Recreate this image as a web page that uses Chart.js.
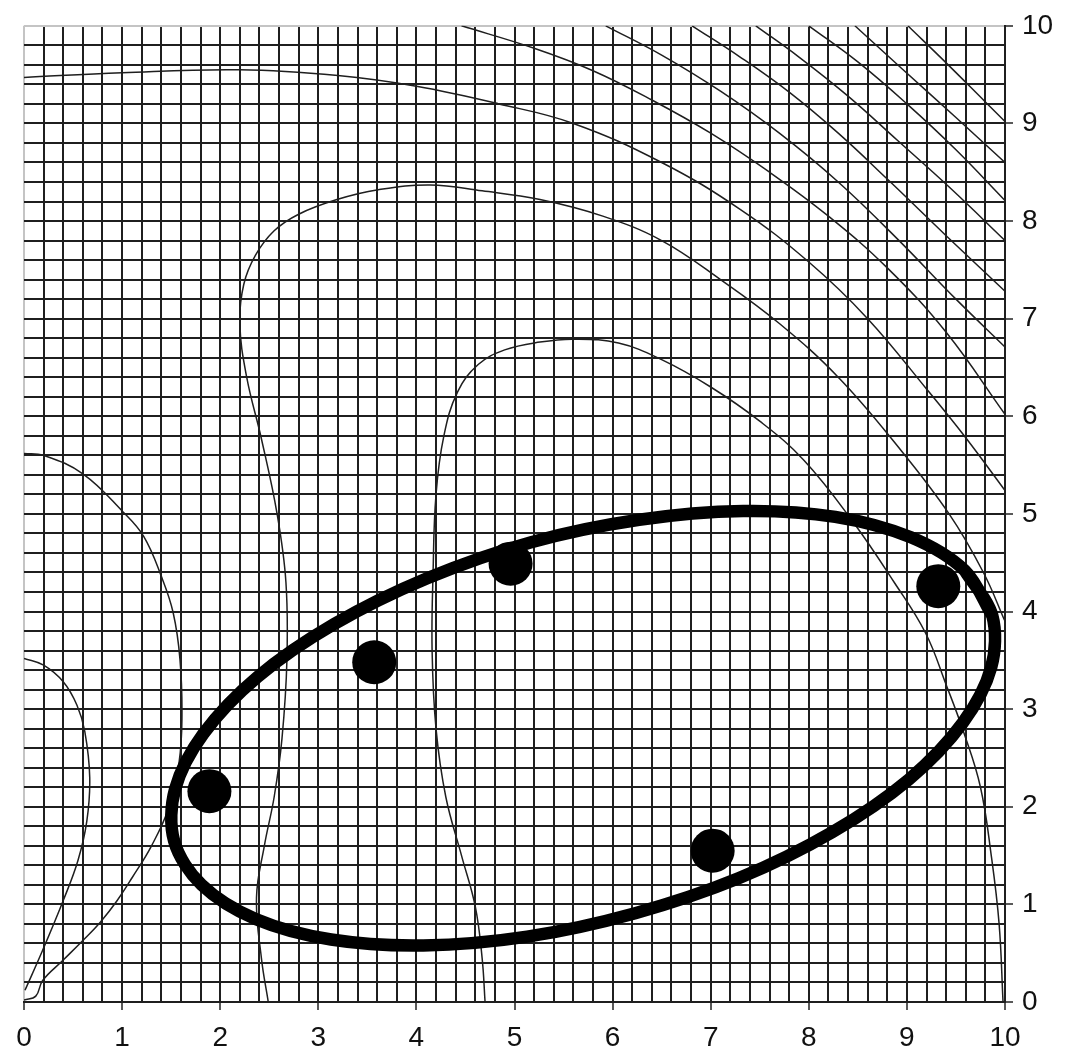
<!DOCTYPE html>
<html>
<head>
<meta charset="utf-8">
<script src="https://cdn.jsdelivr.net/npm/chart.js@4.4.1/dist/chart.umd.min.js"></script>
<style>
  html, body { margin: 0; padding: 0; background: #ffffff; }
  #wrap { width: 1074px; height: 1048px; }
</style>
</head>
<body>
<div id="wrap"><canvas id="plot" width="1074" height="1048"></canvas></div>
<script>
// Axis labels (integer positions only; the fine grid runs every 0.2)
const xTickLabels = ['0', '1', '2', '3', '4', '5', '6', '7', '8', '9', '10'];
const yTickLabels = ['0', '1', '2', '3', '4', '5', '6', '7', '8', '9', '10'];

// Contour lines, [x, y] pairs, upper-right corner outward
const contour1 = [[9.01, 10], [9.4, 9.62], [9.8, 9.22], [10, 9.02]];
const contour2 = [[8.47, 10], [8.95, 9.56], [9.5, 9.06], [10, 8.6]];
const contour3 = [[8.0, 10], [8.5, 9.63], [9.0, 9.2], [9.5, 8.73], [10, 8.21]];
const contour4 = [[7.46, 10], [7.9, 9.68], [8.4, 9.28], [8.9, 8.83], [9.45, 8.33], [10, 7.8]];
const contour5 = [[6.81, 10], [7.3, 9.68], [7.8, 9.32], [8.3, 8.9], [8.8, 8.43], [9.4, 7.85], [10, 7.28]];
const contour6 = [[5.93, 10], [6.5, 9.7], [7.1, 9.33], [7.7, 8.9], [8.3, 8.4], [8.9, 7.82], [9.5, 7.2], [10, 6.71]];
const contour7 = [[4.46, 10], [5.2, 9.77], [5.8, 9.54], [6.4, 9.24], [7.0, 8.9], [7.6, 8.5], [8.2, 8.05],
                  [8.8, 7.52], [9.4, 6.86], [10, 6.02]];
const contour8 = [[0, 9.47], [1.0, 9.52], [2.2, 9.55], [3.2, 9.49], [4.0, 9.38], [4.84, 9.2], [5.6, 9.0],
                  [6.5, 8.6], [7.3, 8.12], [8.0, 7.58], [8.6, 7.0], [9.2, 6.28], [9.6, 5.78], [10, 5.24]];
const contour9 = [[2.49, 0], [2.42, 0.45], [2.37, 1.07], [2.45, 1.6], [2.55, 2.1], [2.63, 2.7], [2.68, 3.5],
                  [2.67, 4.3], [2.58, 5.0], [2.42, 5.77], [2.27, 6.4], [2.2, 6.95], [2.24, 7.35], [2.36, 7.65],
                  [2.55, 7.9], [2.8, 8.07], [3.19, 8.22], [3.61, 8.32], [4.14, 8.37], [4.67, 8.31], [5.26, 8.22],
                  [5.9, 8.05], [6.5, 7.8], [7.1, 7.4], [7.7, 6.95], [8.3, 6.4], [8.9, 5.7], [9.43, 5.0],
                  [9.78, 4.4], [10, 3.9]];
const contour10 = [[4.7, 0], [4.67, 0.45], [4.6, 0.98], [4.46, 1.5], [4.3, 2.1], [4.2, 2.8], [4.16, 3.6],
                   [4.17, 4.4], [4.2, 5.2], [4.28, 5.8], [4.42, 6.25], [4.63, 6.53], [4.9, 6.68], [5.26, 6.76],
                   [5.6, 6.79], [6.06, 6.75], [6.5, 6.58], [7.0, 6.3], [7.5, 5.95], [7.95, 5.55], [8.45, 4.92],
                   [8.87, 4.3], [9.19, 3.78], [9.4, 3.25], [9.58, 2.76], [9.75, 2.2], [9.86, 1.5], [9.94, 0.8],
                   [9.98, 0]];
const contour11 = [[0, 5.62], [0.2, 5.6], [0.6, 5.41], [1.01, 5.02], [1.22, 4.77], [1.4, 4.36], [1.52, 3.99],
                   [1.59, 3.51], [1.61, 2.9], [1.58, 2.45], [1.48, 2.0], [1.3, 1.6], [1.1, 1.27], [0.95, 1.04],
                   [0.78, 0.82], [0.6, 0.63], [0.4, 0.43], [0.19, 0.22], [0.12, 0.06], [0, 0.02]];
const contour12 = [[0, 3.52], [0.2, 3.45], [0.4, 3.28], [0.54, 3.04], [0.62, 2.77], [0.67, 2.3], [0.64, 1.85],
                   [0.55, 1.45], [0.4, 1.04], [0.19, 0.53], [0.01, 0.12]];

// Outline drawn around the sample points
const ringPoints = [[9.87, 3.96], [9.59, 4.42], [9.04, 4.76], [8.27, 4.97], [7.33, 5.03], [6.27, 4.94],
                    [5.17, 4.71], [4.11, 4.34], [3.16, 3.87], [2.38, 3.33], [1.83, 2.75], [1.54, 2.18],
                    [1.53, 1.65], [1.81, 1.20], [2.36, 0.85], [3.13, 0.64], [4.07, 0.58], [5.13, 0.67],
                    [6.23, 0.91], [7.29, 1.27], [8.24, 1.74], [9.02, 2.28], [9.57, 2.86], [9.86, 3.43]];

// Sample points
const samplePoints = [[1.89, 2.16], [3.57, 3.48], [4.96, 4.49], [7.02, 1.55], [9.32, 4.26]];

const toXY = arr => arr.map(([x, y]) => ({ x, y }));
const isWhole = v => Math.abs(v - Math.round(v)) < 1e-6;

const contourSets = [contour1, contour2, contour3, contour4, contour5, contour6, contour7,
                     contour8, contour9, contour10, contour11, contour12];

const contourDatasets = contourSets.map(pts => ({
  data: toXY(pts),
  showLine: true,
  borderColor: '#1f1f1f',
  borderWidth: 1.5,
  pointRadius: 0,
  tension: 0.4,
  fill: false,
  order: 2
}));

// close the ring by repeating its first two points
const ringDataset = {
  data: toXY(ringPoints.concat(ringPoints.slice(0, 2))),
  showLine: true,
  borderColor: '#000000',
  borderWidth: 12.5,
  pointRadius: 0,
  tension: 0.33,
  fill: false,
  order: 1
};

const pointDataset = {
  data: toXY(samplePoints),
  showLine: false,
  pointRadius: 22,
  pointBackgroundColor: '#000000',
  pointBorderWidth: 0,
  order: 0
};

const labelFont = { family: '"Liberation Sans", Arial, sans-serif', size: 28 };
const gridDark = '#1f1f1f';
const edgeGrey = '#c4c4c4';

new Chart(document.getElementById('plot'), {
  type: 'scatter',
  data: { datasets: [...contourDatasets, ringDataset, pointDataset] },
  options: {
    responsive: false,
    animation: false,
    devicePixelRatio: 1,
    layout: { padding: { left: 24, top: 18, right: 0, bottom: 0 } },
    plugins: { legend: { display: false }, tooltip: { enabled: false } },
    scales: {
      x: {
        type: 'linear',
        position: 'bottom',
        min: 0,
        max: 10,
        afterFit: s => { s.height = 46; },
        ticks: {
          stepSize: 0.2,
          autoSkip: false,
          maxRotation: 0,
          padding: 11,
          color: '#111111',
          font: labelFont,
          callback: v => isWhole(v) ? xTickLabels[Math.round(v)] : ''
        },
        grid: {
          lineWidth: 2,
          color: ctx => (ctx.tick && isWhole(ctx.tick.value) && Math.round(ctx.tick.value) === 0) ? edgeGrey : gridDark,
          tickLength: 8,
          tickWidth: 1.5,
          tickColor: ctx => (ctx.tick && isWhole(ctx.tick.value)) ? '#222222' : 'rgba(0,0,0,0)'
        },
        border: { display: true, color: '#1f1f1f', width: 2 }
      },
      y: {
        type: 'linear',
        position: 'right',
        min: 0,
        max: 10,
        afterFit: s => { s.width = 69; },
        ticks: {
          stepSize: 0.2,
          autoSkip: false,
          padding: 9,
          color: '#111111',
          font: labelFont,
          callback: v => isWhole(v) ? yTickLabels[Math.round(v)] : ''
        },
        grid: {
          lineWidth: 2,
          color: ctx => (ctx.tick && isWhole(ctx.tick.value) && Math.round(ctx.tick.value) === 10) ? edgeGrey : gridDark,
          tickLength: 8,
          tickWidth: 1.5,
          tickColor: ctx => (ctx.tick && isWhole(ctx.tick.value)) ? '#222222' : 'rgba(0,0,0,0)'
        },
        border: { display: true, color: '#1f1f1f', width: 2 }
      }
    }
  }
});
</script>
</body>
</html>
